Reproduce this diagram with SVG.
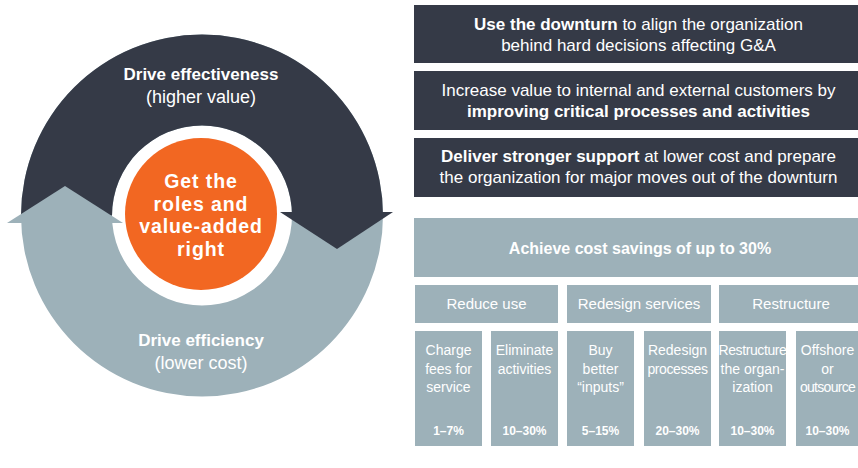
<svg xmlns="http://www.w3.org/2000/svg" width="858" height="468" viewBox="0 0 858 468">
  <style>
    text { font-family: "Liberation Sans", Arial, sans-serif; fill: #ffffff; text-anchor: middle; }
    .dark { fill: #353a47; }
    .grey { fill: #9db1b9; }
    .orange { fill: #f26722; }
    .lead { font-size: 17px; }
    .b { font-weight: bold; }
    .core { font-size: 19.5px; font-weight: bold; letter-spacing: 0.9px; }
    .ring-b { font-size: 17px; font-weight: bold; }
    .ring-r { font-size: 18px; }
    .head { font-size: 16px; font-weight: bold; }
    .lever { font-size: 15px; }
    .item { font-size: 14px; }
    .tight { letter-spacing: -0.4px; }
    .tighter { letter-spacing: -0.7px; }
    .pct { font-size: 12px; font-weight: bold; }
  </style>

  <!-- cycle: two half-ring arrows around the core -->
  <g id="connectors">
    <path class="grey" fill-rule="evenodd" d="M 21 215.5 A 181 181 0 1 0 383 215.5 A 181 181 0 1 0 21 215.5 Z M 112 215.5 A 90 90 0 1 0 292 215.5 A 90 90 0 1 0 112 215.5 Z"/>
    <path class="dark" d="M 21 215.5 A 181 181 0 0 1 383 215.5 L 292 215.5 A 90 90 0 0 0 112 215.5 Z"/>
    <polygon class="grey" points="7,223 65,186 123,223"/>
    <polygon class="dark" points="280,212 393,212 337,249"/>
  </g>

  <g id="effectiveness">
    <text x="201" y="80" class="ring-b">Drive effectiveness</text>
    <text x="201" y="103" class="ring-r">(higher value)</text>
  </g>

  <g id="efficiency">
    <text x="201" y="346" class="ring-b">Drive efficiency</text>
    <text x="201" y="369" class="ring-r">(lower cost)</text>
  </g>

  <g id="core">
    <circle class="orange" cx="201" cy="214" r="76"/>
    <text x="201" y="188" class="core">Get the</text>
    <text x="201" y="211" class="core">roles and</text>
    <text x="201" y="233" class="core">value-added</text>
    <text x="201" y="256" class="core">right</text>
  </g>

  <!-- goals -->
  <g id="goal-downturn">
    <rect class="dark" x="414" y="5" width="449" height="58"/>
    <text x="638.5" y="29.5" class="lead"><tspan class="b">Use the downturn</tspan> to align the organization</text>
    <text x="638.5" y="50.5" class="lead">behind hard decisions affecting G&amp;A</text>
  </g>

  <g id="goal-value">
    <rect class="dark" x="414" y="71" width="449" height="59"/>
    <text x="638.5" y="96" class="lead">Increase value to internal and external customers by</text>
    <text x="638.5" y="117" class="lead b">improving critical processes and activities</text>
  </g>

  <g id="goal-support">
    <rect class="dark" x="414" y="138" width="449" height="59"/>
    <text x="638.5" y="162" class="lead"><tspan class="b">Deliver stronger support</tspan> at lower cost and prepare</text>
    <text x="638.5" y="183" class="lead">the organization for major moves out of the downturn</text>
  </g>

  <!-- savings -->
  <g id="savings">
    <rect class="grey" x="414" y="218" width="449" height="59"/>
    <text x="640" y="254" class="head">Achieve cost savings of up to 30%</text>
  </g>

  <g id="reduce-use">
    <rect class="grey" x="415" y="285" width="143" height="38"/>
    <text x="486.5" y="309" class="lever">Reduce use</text>
  </g>
  <g id="redesign-services">
    <rect class="grey" x="567" y="285" width="144" height="38"/>
    <text x="639" y="309" class="lever">Redesign services</text>
  </g>
  <g id="restructure">
    <rect class="grey" x="719" y="285" width="144" height="38"/>
    <text x="791" y="309" class="lever">Restructure</text>
  </g>

  <g id="charge-fees">
    <rect class="grey" x="415" y="331" width="67" height="115"/>
    <text x="448.5" y="355" class="item">Charge</text>
    <text x="448.5" y="373.5" class="item">fees for</text>
    <text x="448.5" y="392" class="item">service</text>
    <text x="448.5" y="435" class="pct">1–7%</text>
  </g>
  <g id="eliminate">
    <rect class="grey" x="491" y="331" width="67" height="115"/>
    <text x="524.5" y="355" class="item">Eliminate</text>
    <text x="524.5" y="373.5" class="item">activities</text>
    <text x="524.5" y="435" class="pct">10–30%</text>
  </g>
  <g id="buy-better">
    <rect class="grey" x="567" y="331" width="67" height="115"/>
    <text x="600.5" y="355" class="item">Buy</text>
    <text x="600.5" y="373.5" class="item">better</text>
    <text x="600.5" y="392" class="item">“inputs”</text>
    <text x="600.5" y="435" class="pct">5–15%</text>
  </g>
  <g id="redesign-processes">
    <rect class="grey" x="644" y="331" width="67" height="115"/>
    <text x="677.5" y="355" class="item">Redesign</text>
    <text x="677.5" y="373.5" class="item tight">processes</text>
    <text x="677.5" y="435" class="pct">20–30%</text>
  </g>
  <g id="restructure-org">
    <rect class="grey" x="719" y="331" width="67" height="115"/>
    <text x="752.5" y="355" class="item tight">Restructure</text>
    <text x="752.5" y="373.5" class="item">the organ-</text>
    <text x="752.5" y="392" class="item">ization</text>
    <text x="752.5" y="435" class="pct">10–30%</text>
  </g>
  <g id="offshore">
    <rect class="grey" x="796" y="331" width="67" height="115"/>
    <text x="827.5" y="355" class="item">Offshore</text>
    <text x="827.5" y="373.5" class="item">or</text>
    <text x="827.5" y="392" class="item tighter">outsource</text>
    <text x="827.5" y="435" class="pct">10–30%</text>
  </g>
</svg>
